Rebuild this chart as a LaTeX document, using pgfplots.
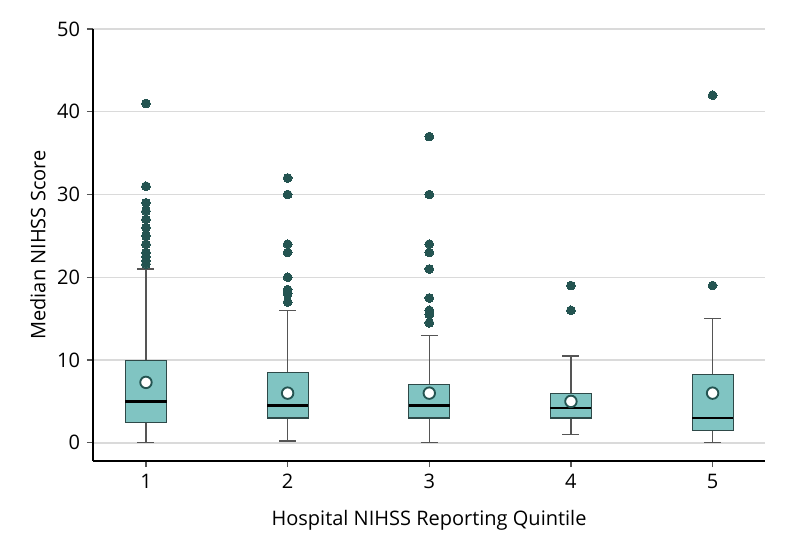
\documentclass[border=0pt]{standalone}
\usepackage{fontspec}
\setmainfont{Open Sans}
\usepackage{pgfplots}
\pgfplotsset{compat=1.18}
\usepgfplotslibrary{statistics}
\definecolor{boxfill}{HTML}{80C4C2}
\definecolor{boxedge}{HTML}{2E4948}
\definecolor{dotdark}{HTML}{245451}
\definecolor{whisk}{HTML}{555555}
\definecolor{gridc}{HTML}{DADADA}
\begin{document}
\fontsize{15}{18}\selectfont
\begin{tikzpicture}
\begin{axis}[
  scale only axis,
  width=504pt, height=324pt,
  xmin=0.626, xmax=5.37,
  ymin=-2.2, ymax=50,
  axis x line*=bottom, axis y line*=left,
  axis line style={black, line width=0.9pt},
  xtick={1,2,3,4,5},
  ytick={0,10,20,30,40,50},
  ymajorgrids,
  grid style={gridc, line width=1.1pt},
  tick align=outside,
  major tick length=4.5pt,
  every tick/.style={whisk, line width=0.9pt},
  /pgf/number format/assume math mode=true,
  tick label style={font=\fontsize{15}{18}\selectfont},
  label style={font=\fontsize{15}{18}\selectfont},
  xlabel={Hospital NIHSS Reporting Quintile},
  ylabel={Median NIHSS Score},
  xlabel style={at={([yshift=-44.25pt]axis description cs:0.5,0)}, anchor=center},
  ylabel style={at={([xshift=-41.25pt]axis description cs:0,0.5)}, anchor=center, rotate=0},
  clip=false,
  boxplot/draw direction=y,
  boxplot/box extend=0.29,
  boxplot/whisker extend=0.12,
  boxplot/every box/.style={draw=boxedge, fill=boxfill, line width=0.8pt},
  boxplot/every whisker/.style={draw=whisk, line width=1pt},
  boxplot/every median/.style={draw=black, line width=1.8pt},
  every axis plot/.append style={draw=whisk, mark=*, mark size=3.3pt, mark options={draw=dotdark, fill=dotdark, line width=0pt}},
]
\addplot[boxplot prepared={draw position=1, lower whisker=0, lower quartile=2.5, median=5, upper quartile=10, upper whisker=21}]
  table[row sep=\\, y index=0] {y\\41\\31\\29\\28\\27\\26\\25\\24\\23\\22.5\\22\\21.6\\};
\addplot[boxplot prepared={draw position=2, lower whisker=0.2, lower quartile=3, median=4.5, upper quartile=8.5, upper whisker=16}]
  table[row sep=\\, y index=0] {y\\32\\30\\24\\23\\20\\18.5\\18\\17\\};
\addplot[boxplot prepared={draw position=3, lower whisker=0, lower quartile=3, median=4.5, upper quartile=7, upper whisker=13}]
  table[row sep=\\, y index=0] {y\\37\\30\\24\\23\\21\\17.5\\16\\15.5\\14.5\\};
\addplot[boxplot prepared={draw position=4, lower whisker=1, lower quartile=3, median=4.2, upper quartile=6, upper whisker=10.5}]
  table[row sep=\\, y index=0] {y\\19\\16\\};
\addplot[boxplot prepared={draw position=5, lower whisker=0, lower quartile=1.5, median=3, upper quartile=8.25, upper whisker=15}]
  table[row sep=\\, y index=0] {y\\42\\19\\};
% means
\addplot[only marks, mark=*, mark size=4.3pt, mark options={draw=dotdark, fill=white, line width=1.4pt}]
  coordinates {(1,7.3) (2,6) (3,6) (4,5) (5,6)};
\end{axis}
\pgfresetboundingbox
\path[use as bounding box] ([xshift=-69.75pt,yshift=-63.75pt]current axis.south west) rectangle ([xshift=21.75pt,yshift=21.75pt]current axis.north east);
\end{tikzpicture}
\end{document}
